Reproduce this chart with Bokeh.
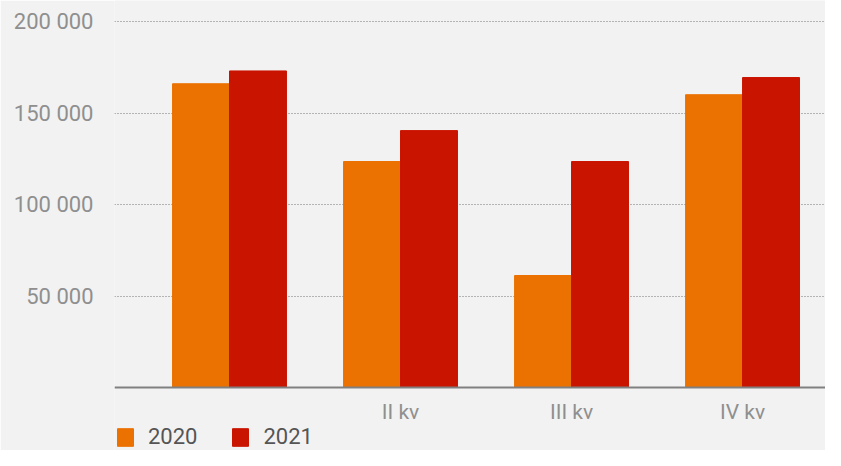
from bokeh.plotting import figure
from bokeh.models import ColumnDataSource, Range1d, FixedTicker, Legend, LegendItem, Span
from bokeh.core.properties import value
from bokeh.embed import file_html
from bokeh.resources import INLINE

quarters = ["I kv", "II kv", "III kv", "IV kv"]
tick_labels = ["", "II kv", "III kv", "IV kv"]
years = ["2020", "2021"]
values_2020 = [166000, 123500, 61200, 160000]
values_2021 = [173000, 140400, 123500, 169400]
y_ticks = [50000, 100000, 150000, 200000]
y_tick_labels = ["50 000", "100 000", "150 000", "200 000"]
colors = ["#EB7100", "#C91400"]

BG = "#f2f2f2"
FONT = "Roboto"

pos = [i + 1 for i in range(len(quarters))]
bar_w = 0.333
src = ColumnDataSource(dict(
    x20=[p - bar_w / 2 for p in pos],
    x21=[p + bar_w / 2 for p in pos],
    v20=values_2020,
    v21=values_2021,
))
lab_src = ColumnDataSource(dict(x=pos, y=[0] * len(pos), text=tick_labels))

p = figure(width=825, height=450, output_backend="svg", toolbar_location=None,
           x_range=Range1d(0.3275, 4.485), y_range=Range1d(-34430, 211500),
           min_border_left=114, min_border_right=0, min_border_top=0, min_border_bottom=0)
p.background_fill_color = BG
p.border_fill_color = BG
p.outline_line_color = None

r20 = p.vbar(x="x20", top="v20", width=bar_w, color=colors[0], source=src)
r21 = p.vbar(x="x21", top="v21", width=bar_w, color=colors[1], source=src)

p.add_layout(Span(location=0, dimension="width", line_color="#808080", line_width=2))

p.text(x="x", y="y", text="text", source=lab_src, y_offset=12,
       text_align="center", text_baseline="top", text_font=value(FONT),
       text_font_size="21px", text_color="#8f8f8f")

p.xaxis.visible = False
p.xgrid.visible = False
p.ygrid.ticker = FixedTicker(ticks=y_ticks)
p.ygrid.grid_line_color = "#777777"
p.ygrid.grid_line_dash = "1 2"
p.ygrid.grid_line_width = 1

p.yaxis.ticker = FixedTicker(ticks=y_ticks)
p.yaxis.major_label_overrides = {t: l for t, l in zip(y_ticks, y_tick_labels)}
p.yaxis.axis_line_color = None
p.yaxis.major_tick_line_color = None
p.yaxis.minor_tick_line_color = None
p.yaxis.major_label_standoff = 15
p.yaxis.major_label_text_font = FONT
p.yaxis.major_label_text_font_size = "22px"
p.yaxis.major_label_text_color = "#8f8f8f"

legend = Legend(items=[LegendItem(label=years[0], renderers=[r20]),
                       LegendItem(label=years[1], renderers=[r21])],
                orientation="horizontal", location=(1, 1))
legend.background_fill_alpha = 0
legend.border_line_color = None
legend.padding = 0
legend.margin = 0
legend.spacing = 33
legend.glyph_width = 20
legend.glyph_height = 22
legend.label_standoff = 13
legend.label_text_font = FONT
legend.label_text_font_size = "22px"
legend.label_text_color = "#555555"
p.add_layout(legend, "center")

html = file_html(p, INLINE)
html = html.replace("<body>", '<body style="background:#f2f2f2;">', 1)
open("out.html", "w").write(html)
